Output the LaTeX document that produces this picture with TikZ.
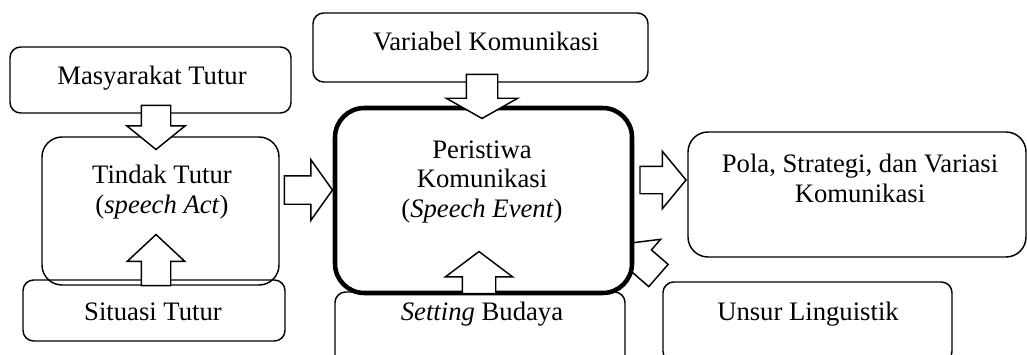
\documentclass[tikz,border=0pt]{standalone}
\usepackage{fontspec}
\setmainfont{Liberation Serif}
\usetikzlibrary{shapes.arrows,calc}

\def\px{0.75pt}
\tikzset{
  box/.style={draw, line width=1.1pt, rounded corners=8pt, inner sep=0pt},
  bigbox/.style={box, rounded corners=15pt},
  mainbox/.style={draw, line width=3.4pt, rounded corners=22pt, fill=white, inner sep=0pt},
  txt/.style={font=\fontsize{20}{21.8}\selectfont, align=center, inner sep=0pt},
  blk/.style={single arrow, draw, fill=white, line width=1.1pt, inner xsep=0pt,
              anchor=tail}
}

\begin{document}
\begin{tikzpicture}[x=0.75pt, y=-0.75pt]
  \useasboundingbox (0,0) rectangle (1027,354);
  \clip (0,0) rectangle (1027,354);

  % boxes
  \node[box, minimum width=281*\px, minimum height=66*\px] (mt) at (150.5,80) {};
  \node[bigbox, minimum width=237*\px, minimum height=148*\px] (tt) at (160.5,211) {};
  \node[box, minimum width=262*\px, minimum height=61*\px] (st) at (154,310.5) {};
  \node[box, minimum width=335*\px, minimum height=69*\px] (vk) at (480.5,47.5) {};
  \node[box, minimum width=290*\px, minimum height=80*\px] (sb) at (480,332) {};
  \node[bigbox, minimum width=338*\px, minimum height=125*\px] (po) at (857,194.5) {};
  \node[box, minimum width=289*\px, minimum height=80*\px] (ul) at (807.5,322) {};

  \node[blk, rotate=139, minimum height=48*\px, inner ysep=14*\px,
        single arrow head extend=14*\px, single arrow tip angle=96] (a7) at (659,276) {};

  \node[mainbox, minimum width=297*\px, minimum height=185*\px] (pk) at (483.5,200.5) {};

  % block arrows
  \node[blk, rotate=-90, minimum height=44*\px, inner ysep=14*\px,
        single arrow head extend=14.5*\px, single arrow tip angle=102] (a1) at ($(mt.south)+(5.5,-9)$) {};
  \node[blk, rotate=90, minimum height=51*\px, inner ysep=14*\px,
        single arrow head extend=14*\px, single arrow tip angle=94] (a2) at ($(st.north)+(2,7)$) {};
  \node[blk, minimum height=48*\px, inner ysep=13.5*\px,
        single arrow head extend=16*\px, single arrow tip angle=109] (a3) at ($(tt.east)+(4,-21)$) {};
  \node[blk, rotate=-90, minimum height=44*\px, inner ysep=15*\px,
        single arrow head extend=20*\px, single arrow tip angle=121] (a4) at ($(vk.south)+(1.5,-9)$) {};
  \node[blk, rotate=90, minimum height=42*\px, inner ysep=16*\px,
        single arrow head extend=17*\px, single arrow tip angle=106] (a5) at ($(sb.north)+(-1,3)$) {};
  \node[blk, minimum height=46*\px, inner ysep=13*\px,
        single arrow head extend=15*\px, single arrow tip angle=101] (a6) at ($(pk.east)+(5,-20.5)$) {};

  % texts
  \node[txt, anchor=base] (mtt) at (152,84) {Masyarakat Tutur};
  \node[txt, anchor=base] (vkt) at (486,50) {Variabel Komunikasi};
  \node[txt, anchor=base] (ttt) at (162,213) {Tindak Tutur\\(\textit{speech Act})};
  \node[txt, anchor=base] (stt) at (153,320) {Situasi Tutur};
  \node[txt, anchor=base] (pkt) at (482,217) {Peristiwa\\Komunikasi\\(\textit{Speech Event})};
  \node[txt, anchor=base] (sbt) at (482,320) {\textit{Setting} Budaya};
  \node[txt, anchor=base] (pot) at (860,202) {Pola, Strategi, dan Variasi\\Komunikasi};
  \node[txt, anchor=base] (ult) at (808,320) {Unsur Linguistik};
\end{tikzpicture}
\end{document}
